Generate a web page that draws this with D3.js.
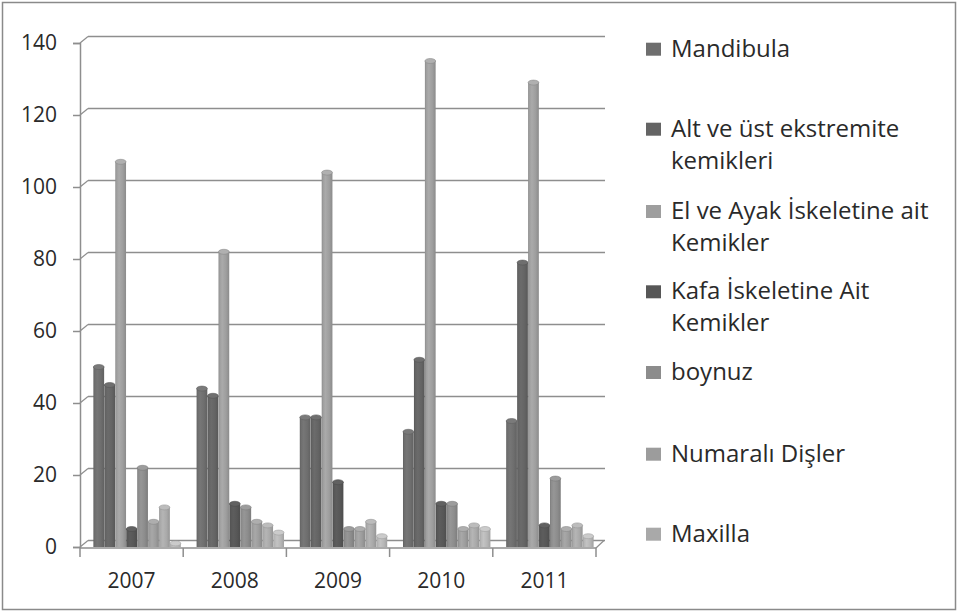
<!DOCTYPE html>
<html>
<head>
<meta charset="utf-8">
<script src="https://cdn.jsdelivr.net/npm/d3@7"></script>
<style>
  html, body { margin: 0; padding: 0; background: #fff; }
  svg { display: block; }
  text { font-family: "Open Sans", "Noto Sans", sans-serif; fill: #2a2a2a; }
</style>
</head>
<body>
<svg id="chart" width="958" height="612"></svg>
<script>
// Years on the category axis
const years = ["2007", "2008", "2009", "2010", "2011"];

// Series names (the last series has no name in the legend)
const seriesNames = [
  "Mandibula",
  "Alt ve üst ekstremite kemikleri",
  "El ve Ayak İskeletine ait Kemikler",
  "Kafa İskeletine Ait Kemikler",
  "boynuz",
  "Numaralı Dişler",
  "Maxilla",
  ""
];

// Counts per year for each series
const mandibula = [50, 44, 36, 32, 35];
const altUst    = [45, 42, 36, 52, 79];
const elAyak    = [107, 82, 104, 135, 129];
const kafa      = [5, 12, 18, 12, 6];
const boynuz    = [22, 11, 5, 12, 19];
const numarali  = [7, 7, 5, 5, 5];
const maxilla   = [11, 6, 7, 6, 6];
const diger     = [1, 4, 3, 5, 3];

const seriesValues = [mandibula, altUst, elAyak, kafa, boynuz, numarali, maxilla, diger];

// Y axis tick values
const yTicks = [0, 20, 40, 60, 80, 100, 120, 140];

// Legend lines (wrapped as drawn)
const legendLines = [
  ["Mandibula"],
  ["Alt ve üst ekstremite", "kemikleri"],
  ["El ve Ayak İskeletine ait", "Kemikler"],
  ["Kafa İskeletine Ait", "Kemikler"],
  ["boynuz"],
  ["Numaralı Dişler"],
  ["Maxilla"]
];

const colors = ["#6e6e6e", "#646464", "#9e9e9e", "#575757", "#8c8c8c", "#9c9c9c", "#a9a9a9", "#b6b6b6"];

const svg = d3.select("#chart");

// outer frame
svg.append("rect")
  .attr("x", 2.5).attr("y", 2.5).attr("width", 953).attr("height", 607)
  .attr("fill", "#fff").attr("stroke", "#8a8a8a").attr("stroke-width", 1.5);

// plot geometry
const left = 80, right = 596;
const depthX = 8, depthY = -6.5;

const y = d3.scaleLinear().domain([0, 140]).range([547, 43]);
const x0 = d3.scaleBand().domain(years).range([left, right]).paddingInner(0).paddingOuter(0);
const x1 = d3.scaleBand().domain(d3.range(seriesNames.length))
  .range([0, x0.bandwidth()]).paddingInner(0.02).paddingOuter(0.72);

const gridColor = "#8e8e8e";

// back wall gridlines with the short depth connectors
const grid = svg.append("g");
yTicks.forEach(t => {
  const yy = y(t);
  grid.append("line")
    .attr("x1", left + depthX).attr("x2", right + depthX + 1)
    .attr("y1", yy + depthY).attr("y2", yy + depthY)
    .attr("stroke", gridColor).attr("stroke-width", 1.5);
  grid.append("line")
    .attr("x1", left).attr("x2", left + depthX)
    .attr("y1", yy).attr("y2", yy + depthY)
    .attr("stroke", gridColor).attr("stroke-width", 1.2);
});

// floor front edge and right depth edge
svg.append("line")
  .attr("x1", left).attr("x2", right)
  .attr("y1", y(0) + 1).attr("y2", y(0) + 1)
  .attr("stroke", gridColor).attr("stroke-width", 1.5);
svg.append("line")
  .attr("x1", right).attr("x2", right + depthX)
  .attr("y1", y(0) + 1).attr("y2", y(0) + depthY)
  .attr("stroke", gridColor).attr("stroke-width", 1.2);

// y axis
const yAxis = d3.axisLeft(y).tickValues(yTicks).tickSize(7).tickPadding(16).tickFormat(d3.format("d"));
const yg = svg.append("g").attr("transform", `translate(${left},0)`).call(yAxis);
yg.select(".domain").attr("stroke", gridColor).attr("stroke-width", 1.5);
yg.selectAll(".tick line").attr("stroke", gridColor).attr("stroke-width", 1.5);
yg.selectAll(".tick text").style("font-size", "21px").attr("fill", "#2a2a2a");

// x axis (category ticks at band boundaries)
const xg = svg.append("g");
const bounds = years.map(d => x0(d)).concat([right]);
bounds.forEach(bx => {
  xg.append("line")
    .attr("x1", bx).attr("x2", bx)
    .attr("y1", y(0) + 1).attr("y2", y(0) + 10)
    .attr("stroke", gridColor).attr("stroke-width", 1.5);
});
xg.selectAll("text.cat").data(years).join("text")
  .attr("class", "cat")
  .attr("x", d => x0(d) + x0.bandwidth() / 2)
  .attr("y", 588)
  .attr("text-anchor", "middle")
  .style("font-size", "21px")
  .text(d => d);

// cylinder gradients
const defs = svg.append("defs");
colors.forEach((c, i) => {
  const base = d3.color(c);
  const g = defs.append("linearGradient").attr("id", "cyl" + i)
    .attr("x1", "0%").attr("x2", "100%").attr("y1", "0%").attr("y2", "0%");
  g.append("stop").attr("offset", "0%").attr("stop-color", base.darker(0.35));
  g.append("stop").attr("offset", "12%").attr("stop-color", base);
  g.append("stop").attr("offset", "35%").attr("stop-color", base.brighter(0.2));
  g.append("stop").attr("offset", "70%").attr("stop-color", base);
  g.append("stop").attr("offset", "100%").attr("stop-color", base.darker(0.35));
});

// bars
const barShift = 5.5;
const ry = 2.5;
const bars = svg.append("g");
years.forEach((yr, yi) => {
  seriesValues.forEach((vals, si) => {
    const v = vals[yi];
    const bx = x0(yr) + x1(si) + barShift;
    const bw = x1.bandwidth();
    const top = y(v);
    const bottom = y(0);
    const g = bars.append("g");
    g.append("rect")
      .attr("x", bx).attr("y", top).attr("width", bw).attr("height", Math.max(0, bottom - top))
      .attr("fill", `url(#cyl${si})`);
    g.append("ellipse")
      .attr("cx", bx + bw / 2).attr("cy", top).attr("rx", bw / 2).attr("ry", ry)
      .attr("fill", d3.color(colors[si]).brighter(0.3))
      .attr("stroke", d3.color(colors[si]).darker(0.35)).attr("stroke-width", 0.6);
  });
});

// legend
const legendBaselines = [56.7, 136.7, 219, 299.3, 380, 461.7, 541.7];
const lg = svg.append("g");
legendLines.forEach((lines, i) => {
  const b = legendBaselines[i];
  lg.append("rect")
    .attr("x", 646).attr("y", b - 14).attr("width", 15).attr("height", 13)
    .attr("fill", colors[i]);
  lines.forEach((ln, k) => {
    lg.append("text")
      .attr("x", 671).attr("y", b + k * 32)
      .style("font-size", "24px")
      .text(ln);
  });
});
</script>
</body>
</html>
